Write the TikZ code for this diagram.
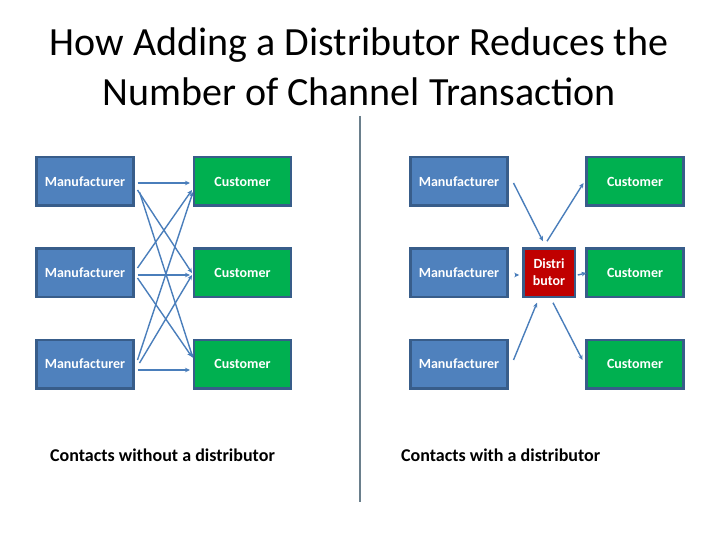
\documentclass[tikz,border=0pt]{standalone}
\usepackage{fontspec}
\setmainfont{Carlito}
\usetikzlibrary{calc,arrows.meta}
\definecolor{mblue}{HTML}{4F81BD}
\definecolor{cgreen}{HTML}{00B050}
\definecolor{dred}{HTML}{C00000}
\definecolor{bord}{HTML}{385D8A}
\definecolor{arr}{HTML}{4A7EBB}
\definecolor{divc}{HTML}{6A7F8C}
\tikzset{
  box/.style={draw=bord, line width=2.5pt, outer sep=0pt, inner sep=0pt, minimum height=48.5pt, text=white, font=\bfseries\fontsize{14}{16}\selectfont},
  mbox/.style={box, fill=mblue, minimum width=97pt},
  cbox/.style={box, fill=cgreen, minimum width=97pt},
  dbox/.style={box, fill=dred, minimum width=51.5pt, align=center, font=\bfseries\fontsize{14}{17}\selectfont},
  conn/.style={draw=arr, line width=1.4pt, -{Stealth[length=5pt,width=4.5pt]}},
  lbl/.style={font=\bfseries\fontsize{18}{20}\selectfont, anchor=base west, inner sep=0pt},
  ttl/.style={font=\fontsize{40}{44}\selectfont, inner sep=0pt, anchor=base}
}
\begin{document}
\begin{tikzpicture}[x=1pt,y=-1pt]
\useasboundingbox (0,0) rectangle (720,540);
\node[ttl] (t1) at (359,56) {How Adding a Distributor Reduces the};
\node[ttl] (t2) at (359,106) {Number of Channel Transaction};
\coordinate (dv1) at (360,116);
\coordinate (dv2) at (360,502);
\draw[divc, line width=1.2pt] (dv1) -- (dv2);
% left
\node[mbox] (m1) at (85,181.5) {Manufacturer};
\node[mbox] (m2) at (85,272.5) {Manufacturer};
\node[mbox] (m3) at (85,364) {Manufacturer};
\node[cbox] (c1) at (242.5,181.5) {Customer};
\node[cbox] (c2) at (242.5,272.5) {Customer};
\node[cbox] (c3) at (242.5,364) {Customer};
\draw[conn] ($(m1.east)+(4,1.5)$) -- ($(c1.west)+(-4,1.5)$);
\draw[conn] ($(m1.east)+(4,8.5)$) -- ($(c2.west)+(-2,0.5)$);
\draw[conn] ($(m1.east)+(6,10.5)$) -- ($(c3.west)+(-1,-6)$);
\draw[conn] ($(m2.east)+(4,-4.5)$) -- ($(c1.west)+(-2,8.5)$);
\draw[conn] ($(m2.east)+(4,2.5)$) -- ($(c2.west)+(-4,2.5)$);
\draw[conn] ($(m2.east)+(4,5.5)$) -- ($(c3.west)+(-2,-7)$);
\draw[conn] ($(m3.east)+(4,-4)$) -- ($(c1.west)+(-1,10.5)$);
\draw[conn] ($(m3.east)+(6,-1)$) -- ($(c2.west)+(-2,2.5)$);
\draw[conn] ($(m3.east)+(4,6)$) -- ($(c3.west)+(-4,6)$);
\node[lbl] (l1) at (50,461) {Contacts without a distributor};
% right
\node[mbox] (rm1) at (459,181.5) {Manufacturer};
\node[mbox] (rm2) at (459,272.5) {Manufacturer};
\node[mbox] (rm3) at (459,364) {Manufacturer};
\node[cbox] (rc1) at (635,181.5) {Customer};
\node[cbox] (rc2) at (635,272.5) {Customer};
\node[cbox] (rc3) at (635,364) {Customer};
\node[dbox] (d) at (549,272.5) {Distri\\butor};
\draw[conn] ($(rm1.east)+(6,1.5)$) -- ($(d.north)+(-6,-7)$);
\draw[conn] ($(d.north)+(-2,-7)$) -- ($(rc1.west)+(-3,1.5)$);
\draw[conn] ($(rm2.east)+(7,2.5)$) -- ($(d.west)+(-4,2.5)$);
\draw[conn] ($(d.east)+(3,2.5)$) -- ($(rc2.west)+(0,0.5)$);
\draw[conn] ($(rm3.east)+(6,-4)$) -- ($(d.south)+(-12,6)$);
\draw[conn] ($(d.south)+(4,6)$) -- ($(rc3.west)+(-4,-4)$);
\node[lbl] (l2) at (401,461) {Contacts with a distributor};
\end{tikzpicture}
\end{document}
